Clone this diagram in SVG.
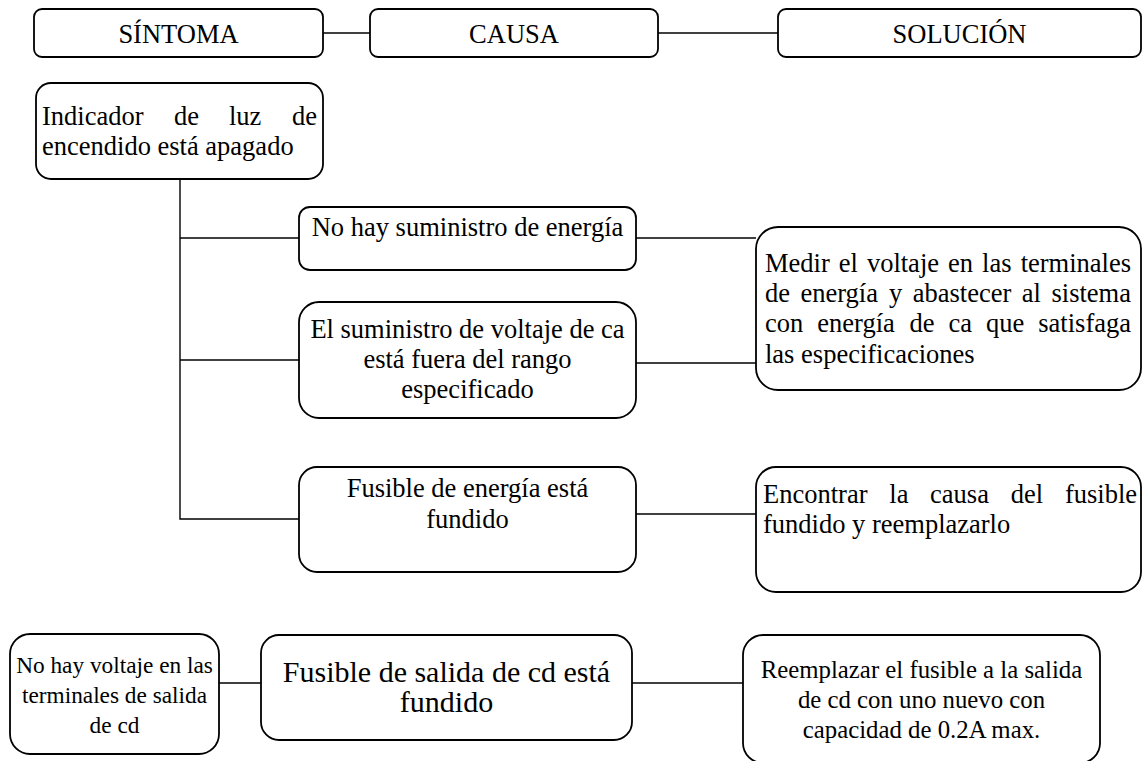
<svg xmlns="http://www.w3.org/2000/svg" width="1143" height="761" viewBox="0 0 1143 761">
<style>
.box{fill:#fff;stroke:#000;stroke-width:1.8}
.ln{fill:none;stroke:#000;stroke-width:1.4}
text{font-family:"Liberation Serif","Times New Roman",serif;font-size:26.5px;fill:#000}
.c{text-anchor:middle}
.e{text-anchor:end}
</style>
<rect width="1143" height="761" fill="#fff"/>
<g id="connectors">
<line class="ln" x1="323" y1="33" x2="370" y2="33"/>
<line class="ln" x1="658" y1="33" x2="778" y2="33"/>
<polyline class="ln" points="180,179 180,519 299,519"/>
<line class="ln" x1="180" y1="238" x2="299" y2="238"/>
<line class="ln" x1="180" y1="360" x2="299" y2="360"/>
<line class="ln" x1="636" y1="238" x2="756" y2="238"/>
<line class="ln" x1="636" y1="363" x2="756" y2="363"/>
<line class="ln" x1="636" y1="514" x2="756" y2="514"/>
<line class="ln" x1="219" y1="683" x2="261" y2="683"/>
<line class="ln" x1="632" y1="683" x2="743" y2="683"/>
</g>
<g id="h-sintoma"><rect class="box" x="34" y="9" width="289" height="48" rx="8"/><text class="c" x="178.5" y="43">SÍNTOMA</text></g>
<g id="h-causa"><rect class="box" x="370" y="9" width="288" height="48" rx="8"/><text class="c" x="514" y="43">CAUSA</text></g>
<g id="h-solucion"><rect class="box" x="778" y="9" width="363" height="48" rx="8"/><text class="c" x="959.5" y="43">SOLUCIÓN</text></g>
<g id="s-indicador"><rect class="box" x="36" y="83" width="287" height="96" rx="15"/>
<text y="125"><tspan x="42">Indicador</tspan><tspan x="174">de</tspan><tspan x="229">luz</tspan></text>
<text class="e" x="317" y="125">de</text>
<text x="42" y="155">encendido está apagado</text></g>
<g id="c-nohay"><rect class="box" x="299" y="207" width="337" height="63" rx="11"/><text class="c" x="467.5" y="236">No hay suministro de energía</text></g>
<g id="c-voltaje"><rect class="box" x="299" y="302" width="337" height="116" rx="20"/>
<text class="c" x="467.5" y="338">El suministro de voltaje de ca</text>
<text class="c" x="467.5" y="368">está fuera del rango</text>
<text class="c" x="467.5" y="398">especificado</text></g>
<g id="c-fusible"><rect class="box" x="299" y="467" width="337" height="105" rx="18"/>
<text class="c" x="467.5" y="497">Fusible de energía está</text>
<text class="c" x="467.5" y="528">fundido</text></g>
<g id="r-medir"><rect class="box" x="756" y="227" width="385" height="163" rx="22"/>
<text y="272"><tspan x="765">Medir</tspan><tspan x="838.8">el</tspan><tspan x="866.9">voltaje</tspan><tspan x="948.1">en</tspan><tspan x="982.1">las</tspan></text>
<text class="e" x="1131" y="272">terminales</text>
<text y="302"><tspan x="765">de</tspan><tspan x="800.5">energía</tspan><tspan x="889">y</tspan><tspan x="912.7">abastecer</tspan><tspan x="1021.8">al</tspan></text>
<text class="e" x="1131" y="302">sistema</text>
<text y="332"><tspan x="765">con</tspan><tspan x="817.3">energía</tspan><tspan x="909.4">de</tspan><tspan x="948.4">ca</tspan><tspan x="985.9">que</tspan></text>
<text class="e" x="1131" y="332">satisfaga</text>
<text x="765" y="363">las especificaciones</text></g>
<g id="r-encontrar"><rect class="box" x="756" y="467" width="385" height="125" rx="20"/>
<text y="503"><tspan x="763">Encontrar</tspan><tspan x="889.3">la</tspan><tspan x="930.1">causa</tspan><tspan x="1010.8">del</tspan></text>
<text class="e" x="1137" y="503">fusible</text>
<text x="763" y="533">fundido y reemplazarlo</text></g>
<g id="s-voltaje-cd" style="font-size:23.3px"><rect class="box" x="10" y="634" width="209" height="120" rx="20"/>
<text class="c" x="114.5" y="673" style="font-size:23.3px">No hay voltaje en las</text>
<text class="c" x="114.5" y="703" style="font-size:23.3px">terminales de salida</text>
<text class="c" x="114.5" y="733" style="font-size:23.3px">de cd</text></g>
<g id="c-fusible-cd"><rect class="box" x="261" y="635" width="371" height="105" rx="18"/>
<text class="c" x="446.5" y="682" style="font-size:30px">Fusible de salida de cd está</text>
<text class="c" x="446.5" y="712" style="font-size:30px">fundido</text></g>
<g id="r-reemplazar"><rect class="box" x="743" y="635" width="357" height="128" rx="20"/>
<text class="c" x="921.5" y="678" style="font-size:24.8px">Reemplazar el fusible a la salida</text>
<text class="c" x="921.5" y="708" style="font-size:24.8px">de cd con uno nuevo con</text>
<text class="c" x="921.5" y="738" style="font-size:24.8px">capacidad de 0.2A max.</text></g>
</svg>
